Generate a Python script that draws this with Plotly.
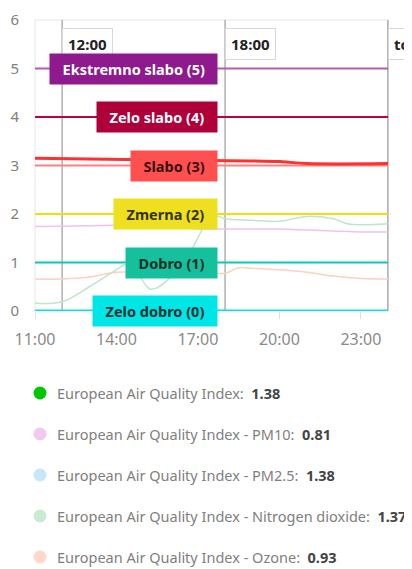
import plotly.graph_objects as go

# time axis (hours, 11:00 .. 00:00)
hours_no2 = [11, 12, 13, 14, 14.5, 15.25, 16, 16.75, 17.25, 17.7, 18, 19, 20, 21, 22, 22.5, 23, 24]
no2 = [0.16, 0.19, 0.5, 0.85, 1.0, 0.45, 0.7, 1.25, 1.75, 1.95, 1.9, 1.87, 1.85, 1.95, 1.9, 1.8, 1.78, 1.8]

hours_pm10 = [11, 12, 13, 14, 15, 16, 17, 18, 19, 20, 21, 22, 23, 24]
pm10 = [1.74, 1.75, 1.76, 1.77, 1.75, 1.72, 1.69, 1.69, 1.69, 1.69, 1.67, 1.65, 1.63, 1.63]

hours_o3 = [11, 12, 13, 14, 15, 16, 17, 18, 18.5, 19, 20, 21, 22, 23, 24]
ozone = [0.66, 0.66, 0.7, 0.8, 0.8, 0.82, 0.8, 0.78, 0.89, 0.88, 0.85, 0.8, 0.72, 0.67, 0.66]

hours_slabo = [11, 15, 20, 21, 24]
slabo_band = [3.15, 3.12, 3.08, 3.04, 3.04]

levels = [5, 4, 3, 2, 1, 0]
level_names = ["Ekstremno slabo (5)", "Zelo slabo (4)", "Slabo (3)", "Zmerna (2)", "Dobro (1)", "Zelo dobro (0)"]
level_line_colors = ["#b35cb3", "#c0003c", "#ff8080", "#f2e000", "#00cdb8", "#00e6e6"]
level_box_colors = ["#8e1a8e", "#b0003a", "#ff5050", "#eee020", "#16c09c", "#00e5e5"]
level_text_colors = ["white", "white", "#3a1010", "#333300", "#063028", "#043030"]

top_marks = [12, 18, 24]
top_labels = ["12:00", "18:00", "to"]

legend_names = ["European Air Quality Index:", "European Air Quality Index - PM10:",
                "European Air Quality Index - PM2.5:", "European Air Quality Index - Nitrogen dioxide:",
                "European Air Quality Index - Ozone:"]
legend_values = ["1.38", "0.81", "1.38", "1.37", "0.93"]
legend_colors = ["#00c800", "#f0c8f0", "#c8e6fa", "#c8ebd2", "#ffd8ca"]

x_ticks = [11, 14, 17, 20, 23]
x_tick_labels = ["11:00", "14:00", "17:00", "20:00", "23:00"]

FONT = "Noto Sans"
PLOT_W, PLOT_H = 353.0, 291.0  # plot area size in px

fig = go.Figure()

# threshold lines
for lv, col in zip(levels, level_line_colors):
    w = 3 if lv == 0 else 2
    fig.add_trace(go.Scatter(x=[11, 24], y=[lv, lv], mode="lines",
                             line=dict(color=col, width=w), hoverinfo="skip"))
fig.add_trace(go.Scatter(x=hours_slabo, y=slabo_band, mode="lines", line_shape="spline",
                         line=dict(color="#ff3030", width=3), hoverinfo="skip"))

# series
fig.add_trace(go.Scatter(x=hours_pm10, y=pm10, mode="lines", line_shape="spline",
                         line=dict(color="#eec4ee", width=1.5)))
fig.add_trace(go.Scatter(x=hours_o3, y=ozone, mode="lines", line_shape="spline",
                         line=dict(color="#ffcfc0", width=1.5)))
fig.add_trace(go.Scatter(x=hours_no2, y=no2, mode="lines", line_shape="spline",
                         line=dict(color="#bfe6c8", width=1.5)))

shapes = []
# plot frame
shapes.append(dict(type="rect", x0=0, x1=1, y0=0, y1=1, xref="paper", yref="paper",
                   line=dict(color="#e6e6e6", width=1), layer="below"))
shapes.append(dict(type="line", x0=1, x1=1, y0=0, y1=1, xref="paper", yref="paper",
                   line=dict(color="#c8c8c8", width=2), layer="below"))
# vertical markers
for h in top_marks:
    shapes.append(dict(type="line", x0=h, x1=h, y0=0, y1=6, xref="x", yref="y",
                       line=dict(color="#b0b0b0", width=1.5), layer="below"))

annotations = []
for h, t in zip(top_marks, top_labels):
    annotations.append(dict(x=h, y=5.5, xref="x", yref="y", text="<b>%s</b>" % t,
                            showarrow=False, xanchor="left", yanchor="middle",
                            font=dict(size=15, color="#222", family=FONT),
                            bgcolor="white", bordercolor="#d8d8d8", borderwidth=1, borderpad=5))

pad = "&nbsp;" * 2
for lv, name, bc, tc in zip(levels, level_names, level_box_colors, level_text_colors):
    annotations.append(dict(x=0.518, y=lv, xref="paper", yref="y",
                            text="%s<b>%s</b>%s" % (pad, name, pad),
                            showarrow=False, xanchor="right", yanchor="middle",
                            font=dict(size=14.5, color=tc, family=FONT),
                            bgcolor=bc, borderpad=5))

# legend rows (px positions below the plot)
for i, (name, val, col) in enumerate(zip(legend_names, legend_values, legend_colors)):
    ypx = 393 + i * 41
    yp = (311 - ypx) / PLOT_H
    shapes.append(dict(type="circle", xref="paper", yref="paper",
                       xsizemode="pixel", ysizemode="pixel",
                       xanchor=(40 - 35) / PLOT_W, yanchor=yp,
                       x0=-6.5, x1=6.5, y0=-6.5, y1=6.5,
                       fillcolor=col, line=dict(color=col, width=0)))
    annotations.append(dict(x=(55 - 35) / PLOT_W, y=yp, xref="paper", yref="paper",
                            text='%s&nbsp;&nbsp;<b><span style="color:#444">%s</span></b>' % (name, val),
                            showarrow=False, xanchor="left", yanchor="middle",
                            font=dict(size=14.5, color="#808080", family=FONT)))

fig.update_layout(
    width=404, height=561,
    margin=dict(l=27, r=24, t=12, b=258, autoexpand=False),
    paper_bgcolor="white", plot_bgcolor="white",
    showlegend=False,
    shapes=shapes,
    annotations=annotations,
    xaxis=dict(range=[11, 24], tickvals=x_ticks, ticktext=x_tick_labels, automargin=False,
               showgrid=False, zeroline=False, ticks="outside", ticklen=7, tickcolor="#e0e0e0",
               ticklabelstandoff=7,
               tickfont=dict(size=16, color="#8a8a8a", family=FONT)),
    yaxis=dict(range=[0, 6], tickvals=[0, 1, 2, 3, 4, 5, 6], showgrid=False, zeroline=False,
               automargin=False,
               tickfont=dict(size=15, color="#808080", family=FONT),
               ticks="", ticklabelstandoff=15),
)

fig.write_html("out.html")
